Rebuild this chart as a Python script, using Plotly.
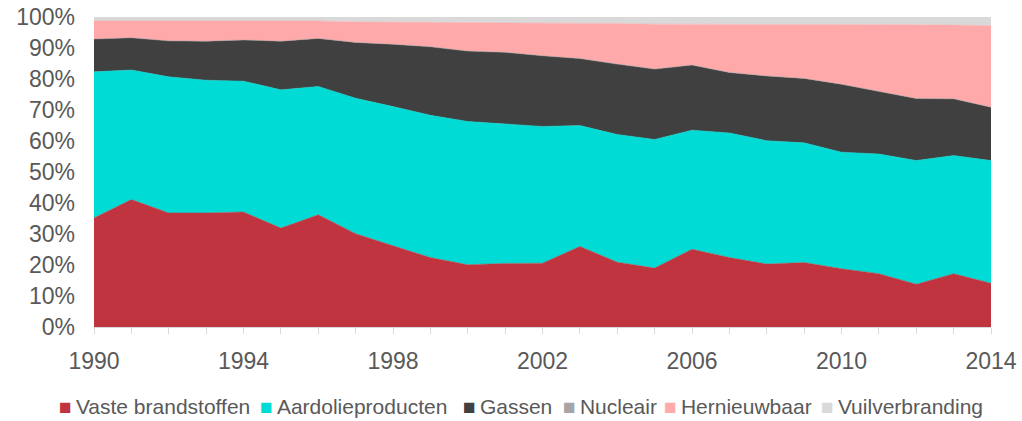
import plotly.graph_objects as go

years = list(range(1990, 2015))

vaste = [35.2, 41.1, 36.8, 36.8, 37.1, 31.9, 36.2, 30.1, 26.2, 22.4, 20.1, 20.5, 20.6,
         26.0, 20.9, 19.0, 25.1, 22.4, 20.3, 20.8, 18.8, 17.2, 13.8, 17.2, 14.1]
aardolie = [47.1, 41.8, 43.9, 42.8, 42.2, 44.6, 41.4, 43.7, 44.9, 45.9, 46.2, 45.1, 44.1,
            39.0, 41.2, 41.5, 38.4, 40.2, 39.8, 38.6, 37.6, 38.6, 39.9, 38.1, 39.6]
gassen = [10.6, 10.4, 11.6, 12.6, 13.3, 15.7, 15.5, 18.0, 20.1, 22.1, 22.7, 23.0, 22.8,
          21.6, 22.7, 22.7, 21.0, 19.5, 20.9, 20.8, 21.9, 20.2, 20.0, 18.3, 17.2]
nucleair = [0.0] * 25
hernieuwbaar = [5.8, 5.4, 6.4, 6.5, 6.1, 6.5, 5.6, 6.6, 7.2, 8.0, 9.2, 9.5, 10.6,
                11.5, 13.1, 14.5, 13.2, 15.6, 16.7, 17.5, 19.3, 21.5, 23.8, 23.8, 26.3]
vuil = [1.3, 1.3, 1.3, 1.3, 1.3, 1.3, 1.3, 1.6, 1.6, 1.6, 1.8, 1.9, 1.9,
        1.9, 2.1, 2.3, 2.3, 2.3, 2.3, 2.3, 2.4, 2.5, 2.5, 2.6, 2.8]

series = [
    ("Vaste brandstoffen", vaste, "#C0343F"),
    ("Aardolieproducten", aardolie, "#00DCD5"),
    ("Gassen", gassen, "#404040"),
    ("Nucleair", nucleair, "#A5A5A5"),
    ("Hernieuwbaar", hernieuwbaar, "#FFA9AA"),
    ("Vuilverbranding", vuil, "#D9D9D9"),
]

# legend entry left edges (paper x), compact Excel-style legend in one row
legend_x = [-0.041, 0.183, 0.409, 0.521, 0.633, 0.808]

fig = go.Figure()
for name, vals, col in series:
    fig.add_trace(go.Scatter(
        x=years, y=vals, name=name, mode="lines",
        stackgroup="one", groupnorm="percent",
        line=dict(width=0.5, color=col), fillcolor=col,
        showlegend=False,
    ))

for (name, vals, col), lx in zip(series, legend_x):
    fig.add_annotation(
        x=lx, y=-0.258, xref="paper", yref="paper",
        xanchor="left", yanchor="middle", showarrow=False,
        text=f"<span style='color:{col}'>■</span>&#8201;{name}",
        font=dict(size=21, color="#595959"),
    )

fig.update_layout(
    width=1022, height=421,
    margin=dict(l=94, r=31, t=17, b=94),
    plot_bgcolor="white", paper_bgcolor="white",
    font=dict(family="Liberation Sans, Arial", size=23, color="#595959"),
)
fig.update_xaxes(
    range=[1990, 2014], tickmode="linear", tick0=1990, dtick=4,
    ticks="outside", ticklen=6, tickcolor="#D9D9D9", ticklabelstandoff=7,
    minor=dict(dtick=1, ticks="outside", ticklen=6, tickcolor="#D9D9D9"),
    showline=True, linecolor="#D9D9D9", linewidth=1,
    showgrid=False, zeroline=False, automargin=False,
    ticklabeloverflow="allow",
)
fig.update_yaxes(
    range=[0, 100], dtick=10, ticksuffix="%",
    showgrid=False, zeroline=False, showline=False, ticks="",
    ticklabelstandoff=18, automargin=False, ticklabeloverflow="allow",
)

# drop the default 8px body margin so the figure fills the window
fig.write_html("out.html", config={"displayModeBar": False},
               post_script="document.body.style.margin='0';")
